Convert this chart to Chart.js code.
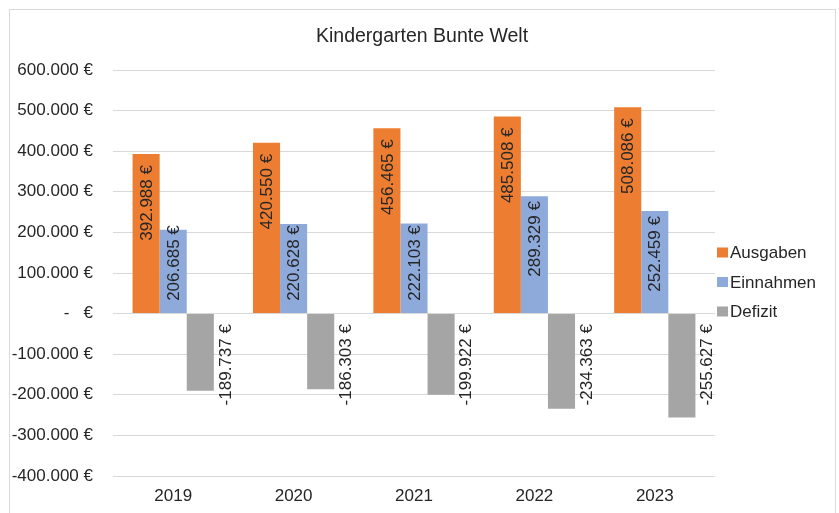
<!DOCTYPE html>
<html lang="de">
<head>
<meta charset="utf-8">
<title>Kindergarten Bunte Welt</title>
<script src="https://cdn.jsdelivr.net/npm/chart.js@4/dist/chart.umd.min.js"></script>
<style>
    html, body { margin: 0; padding: 0; background: #fff; overflow: hidden; }
    #wrap { position: relative; width: 839px; height: 513px; }
    #frame {
        position: absolute; left: 9px; top: 9px;
        width: 825px; height: 530px;
        border: 1px solid #d9d9d9;
    }
    #chart { position: absolute; left: 0; top: 0; }
</style>
</head>
<body>
<div id="wrap">
    <div id="frame"></div>
    <canvas id="chart" width="839" height="513"></canvas>
</div>
<script>
// Kindergarten Bunte Welt - Ausgaben / Einnahmen / Defizit

const years = ['2019', '2020', '2021', '2022', '2023'];
const ausgaben = [392988, 420550, 456465, 485508, 508086];
const einnahmen = [206685, 220628, 222103, 289329, 252459];
const defizit = [-189737, -186303, -199922, -234363, -255627];

const seriesNames = ['Ausgaben', 'Einnahmen', 'Defizit'];
const seriesColors = ['#ed7d31', '#8eaadb', '#a5a5a5'];

const yMin = -400000;
const yMax = 600000;
const yStep = 100000;

const textColor = '#262626';
const fontFamily = "'Liberation Sans', Arial, sans-serif";

// 392988 -> "392.988 €", 0 -> "-   €"
function euro(v) {
    if (v === 0) return '-\u00a0\u00a0\u00a0€';
    const s = Math.abs(v).toString().replace(/\B(?=(\d{3})+(?!\d))/g, '.');
    return (v < 0 ? '-' : '') + s + ' €';
}

// Rotated value labels, like the Excel chart
const valueLabels = {
    id: 'valueLabels',
    afterDatasetsDraw(chart) {
        const ctx = chart.ctx;
        const yScale = chart.scales.y;
        ctx.save();
        ctx.font = '17px ' + fontFamily;
        ctx.fillStyle = textColor;
        ctx.textAlign = 'right';
        ctx.textBaseline = 'middle';
        chart.data.datasets.forEach((ds, i) => {
            const meta = chart.getDatasetMeta(i);
            meta.data.forEach((bar, j) => {
                const v = ds.data[j];
                let x, y;
                if (i === 0) {
                    x = bar.x;
                    y = bar.y + 11;
                } else if (i === 1) {
                    x = bar.x;
                    y = Math.min(bar.y, yScale.getPixelForValue(230000)) + 5;
                } else {
                    x = bar.x + bar.width / 2 + 11;
                    y = bar.base + 10;
                }
                ctx.save();
                ctx.translate(x, y);
                ctx.rotate(-Math.PI / 2);
                ctx.fillText(euro(v), 0, 1);
                ctx.restore();
            });
        });
        ctx.restore();
    }
};

// Legend on the right, small squares close to the text
const sideLegend = {
    id: 'sideLegend',
    afterDraw(chart) {
        const ctx = chart.ctx;
        const area = chart.chartArea;
        const left = area.right + 2;
        const firstY = 252.5;
        const rowGap = 29.5;
        ctx.save();
        ctx.font = '17px ' + fontFamily;
        ctx.textAlign = 'left';
        ctx.textBaseline = 'middle';
        chart.data.datasets.forEach((ds, i) => {
            const cy = firstY + i * rowGap;
            ctx.fillStyle = ds.backgroundColor;
            ctx.fillRect(left, cy - 5, 11, 10);
            ctx.fillStyle = textColor;
            ctx.fillText(ds.label, left + 13, cy + 1);
        });
        ctx.restore();
    }
};

Chart.defaults.font.family = fontFamily;
Chart.defaults.font.size = 17;
Chart.defaults.color = textColor;

new Chart(document.getElementById('chart'), {
    type: 'bar',
    data: {
        labels: years,
        datasets: [
            { label: seriesNames[0], data: ausgaben, backgroundColor: seriesColors[0] },
            { label: seriesNames[1], data: einnahmen, backgroundColor: seriesColors[1] },
            { label: seriesNames[2], data: defizit, backgroundColor: seriesColors[2] }
        ]
    },
    options: {
        responsive: false,
        animation: false,
        layout: { padding: { left: 9, right: 4, top: 0, bottom: 0 } },
        datasets: {
            bar: { categoryPercentage: 0.675, barPercentage: 1, borderWidth: 0 }
        },
        plugins: {
            legend: { display: false },
            tooltip: { enabled: false },
            title: {
                display: true,
                text: 'Kindergarten Bunte Welt',
                color: textColor,
                font: { size: 19.5, weight: 'normal' },
                padding: { top: 25, bottom: 21.6 }
            }
        },
        scales: {
            x: {
                grid: { display: false, drawTicks: false },
                border: { display: false },
                ticks: { padding: 10, color: textColor },
                afterFit(scale) { scale.height = 37; }
            },
            y: {
                min: yMin,
                max: yMax,
                grid: { color: '#d9d9d9', lineWidth: 1, drawTicks: false },
                border: { display: false },
                ticks: {
                    stepSize: yStep,
                    padding: 20,
                    color: textColor,
                    callback: (v) => euro(v)
                },
                afterFit(scale) { scale.width = 104; }
            },
            pad: {
                axis: 'y',
                type: 'linear',
                position: 'right',
                display: true,
                grid: { display: false, drawTicks: false },
                border: { display: false },
                ticks: { display: false },
                afterFit(scale) { scale.width = 120; }
            }
        }
    },
    plugins: [valueLabels, sideLegend]
});
</script>
</body>
</html>
